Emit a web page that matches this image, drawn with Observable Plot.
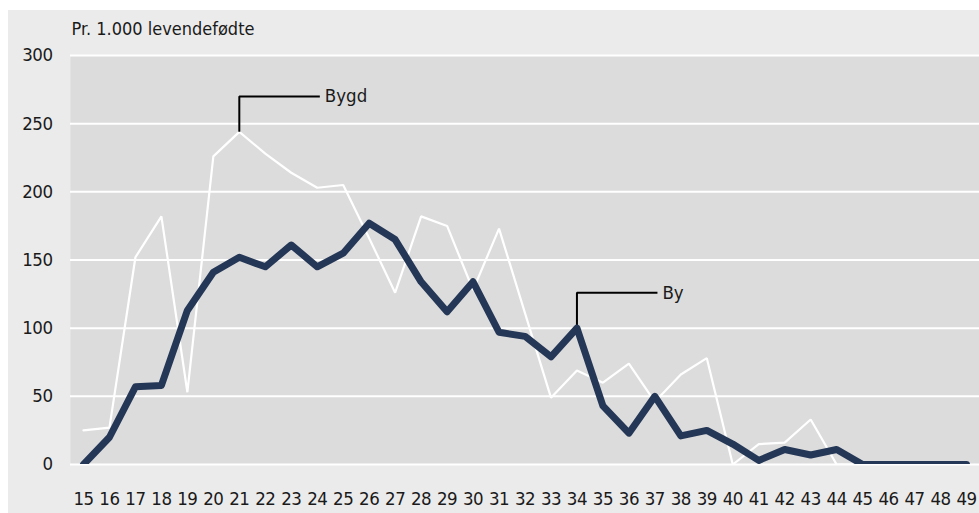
<!DOCTYPE html>
<html>
<head>
<meta charset="utf-8">
<script src="https://cdn.jsdelivr.net/npm/d3@7"></script>
<script src="https://cdn.jsdelivr.net/npm/@observablehq/plot@0.6"></script>
<style>
  html, body { margin: 0; padding: 0; background: #ffffff; }
  #wrap { position: absolute; left: 8px; top: 10px; width: 971px; height: 503px; background: #ebebeb; }
  #wrap svg g[aria-label="y-axis tick label"] text,
  #wrap svg g[aria-label="x-axis tick label"] text { letter-spacing: -0.5px; }
</style>
</head>
<body>
<div id="wrap"></div>
<script>
const title = "Pr. 1.000 levendefødte";
const ages = d3.range(15, 50);
const by   = [0,20,57,58,113,141,152,145,161,145,155,177,165,134,112,134,97,94,79,100,43,23,50,21,25,15,3,11,7,11,0,0,0,0,0];
const bygd = [25,27,152,182,53,226,244,228,214,203,205,166,126,182,175,128,173,111,49,69,60,74,46,66,78,0,15,16,33,0,0,0,0,0,0];
const yTicks = [0, 50, 100, 150, 200, 250, 300];
const labels = [{name: "Bygd", age: 21, series: bygd}, {name: "By", age: 34, series: by}];
const rise = 26, run = 3.1;

const FONT = '"Liberation Sans Narrow", "DejaVu Sans Condensed", "Open Sans", sans-serif';
const byData = ages.map((a, i) => ({age: a, v: by[i]}));
const bygdData = ages.map((a, i) => ({age: a, v: bygd[i]}));
const leaders = labels.flatMap(l => {
  const v = l.series[ages.indexOf(l.age)];
  return [
    {name: l.name, age: l.age, v: v},
    {name: l.name, age: l.age, v: v + rise},
    {name: l.name, age: l.age + run, v: v + rise}
  ];
});
const labelPts = labels.map(l => ({name: l.name, age: l.age + run, v: l.series[ages.indexOf(l.age)] + rise}));

const chart = Plot.plot({
  width: 971,
  height: 503,
  marginLeft: 62,
  marginRight: 0,
  marginTop: 45,
  marginBottom: 49,
  style: {background: "transparent", fontFamily: FONT, fontSize: "18px", color: "#1a1a1a"},
  x: {domain: [14.5, 49.5]},
  y: {domain: [0, 300]},
  marks: [
    Plot.frame({fill: "#dcdcdc", stroke: null}),
    Plot.ruleY(yTicks, {stroke: "#ffffff", strokeWidth: 2}),
    Plot.axisY({ticks: yTicks, tickSize: 0, tickPadding: 18, label: null, fontSize: 18.5, fontFamily: FONT, fill: "#1a1a1a"}),
    Plot.axisX({ticks: ages, tickSize: 0, tickPadding: 27, tickFormat: d => String(d), label: null, fontSize: 18.5, fontFamily: FONT, fill: "#1a1a1a"}),
    Plot.text([title], {frameAnchor: "top-left", textAnchor: "start", dx: 1, dy: -33, fontSize: 18, fontFamily: FONT, fill: "#1a1a1a"}),
    Plot.line(bygdData, {x: "age", y: "v", stroke: "#ffffff", strokeWidth: 2.2, clip: true, strokeLinejoin: "miter"}),
    Plot.line(leaders, {x: "age", y: "v", z: "name", stroke: "#000000", strokeWidth: 2, strokeLinejoin: "miter", strokeLinecap: "butt"}),
    Plot.line(byData, {x: "age", y: "v", stroke: "#253756", strokeWidth: 7, clip: true, strokeLinejoin: "round"}),
    Plot.text(labelPts, {x: "age", y: "v", text: "name", textAnchor: "start", dx: 5, fontSize: 18.5, fontFamily: FONT, fill: "#1a1a1a"})
  ]
});
document.getElementById("wrap").appendChild(chart);
</script>
</body>
</html>
